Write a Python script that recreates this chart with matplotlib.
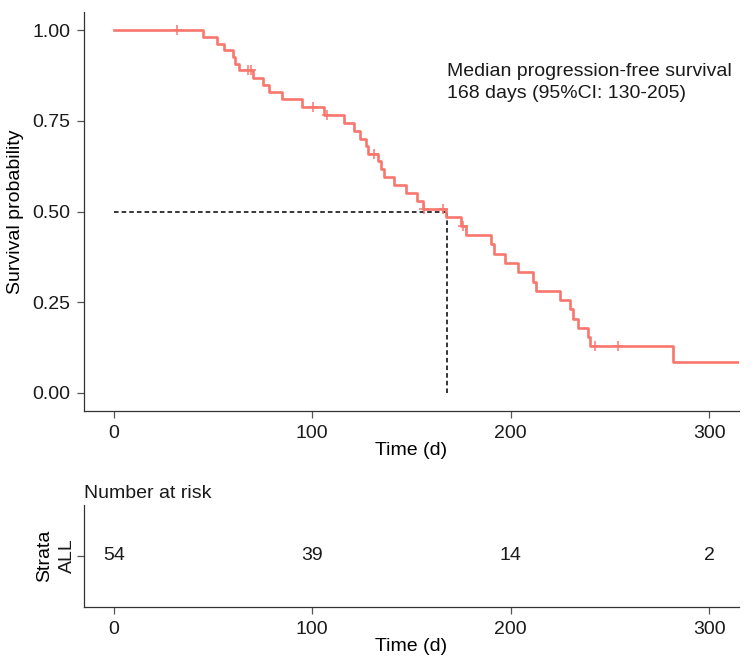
import matplotlib
matplotlib.use("Agg")
import matplotlib.pyplot as plt

plt.rcParams["font.family"] = ["Liberation Sans", "DejaVu Sans"]
plt.rcParams["font.size"] = 14

# Kaplan-Meier steps
step_days = [0, 45, 52, 55.5, 60, 61, 63, 70, 75, 78, 85, 95, 106, 116, 121, 124,
             127, 128, 133, 134.5, 136, 141, 147, 153, 156, 167.5, 175, 177.5,
             190, 191.5, 197, 203.5, 211, 212.5, 225, 230, 231.5, 234, 239, 240,
             282, 316]
step_surv = [1.0, 0.982, 0.963, 0.944, 0.926, 0.907, 0.889, 0.869, 0.849, 0.830,
             0.810, 0.788, 0.766, 0.744, 0.722, 0.701, 0.680, 0.659, 0.638, 0.616,
             0.594, 0.572, 0.551, 0.529, 0.507, 0.484, 0.461, 0.436, 0.410, 0.384,
             0.358, 0.333, 0.307, 0.282, 0.256, 0.231, 0.205, 0.180, 0.154, 0.129,
             0.086, 0.086]

censor_days = [32, 67.5, 69, 100.5, 107.5, 131, 156.5, 166, 176, 242.5, 254]
censor_surv = [1.0, 0.889, 0.889, 0.788, 0.766, 0.659, 0.507, 0.507, 0.461, 0.129, 0.129]

median_day = 168
median_surv = 0.5

risk_times = [0, 100, 200, 300]
risk_counts = [54, 39, 14, 2]

curve_col = "#F8766D"
spine_col = "#333333"
text_col = "#1a1a1a"

fig = plt.figure(figsize=(7.56, 6.66), dpi=100)
ax = fig.add_axes([0.1111, 0.3829, 0.8664, 0.599])
ax_r = fig.add_axes([0.1111, 0.089, 0.8664, 0.1527])

ax.step(step_days, step_surv, where="post", color=curve_col, lw=1.9, zorder=3)
ax.plot(censor_days, censor_surv, "+", color=curve_col, ms=7, mew=1.1, zorder=3)

ax.plot([0, median_day], [median_surv, median_surv], color="black",
        lw=1.1, ls=(0, (3, 2)), zorder=2)
ax.plot([median_day, median_day], [0, median_surv], color="black",
        lw=1.1, ls=(0, (3, 2)), zorder=2)

ax.text(168, 0.855, "Median progression-free survival\n168 days (95%CI: 130-205)",
        ha="left", va="center", linespacing=1.4, color=text_col)

ax.set_xlim(-15, 315)
ax.set_ylim(-0.05, 1.05)
ax.set_xticks(risk_times)
ax.set_yticks([0, 0.25, 0.5, 0.75, 1.0])
ax.set_yticklabels(["0.00", "0.25", "0.50", "0.75", "1.00"])
ax.set_xlabel("Time (d)", labelpad=0)
ax.set_ylabel("Survival probability", labelpad=6)

for a in (ax, ax_r):
    for s in ("top", "right"):
        a.spines[s].set_visible(False)
    for s in ("left", "bottom"):
        a.spines[s].set_color(spine_col)
        a.spines[s].set_linewidth(0.9)
    a.tick_params(colors="#555555", labelcolor=text_col, length=5, width=0.9,
                  labelsize=14, pad=5)

# risk table
for t, n in zip(risk_times, risk_counts):
    ax_r.text(t, 1, str(n), ha="center", va="center", fontsize=14, color=text_col)
ax_r.set_xlim(-15, 315)
ax_r.set_ylim(0, 2)
ax_r.set_xticks(risk_times)
ax_r.set_yticks([1])
ax_r.set_yticklabels(["ALL"], rotation=90, va="center")
ax_r.tick_params(axis="y", pad=1)
ax_r.set_ylabel("Strata", labelpad=4)
ax_r.set_xlabel("Time (d)", labelpad=0)
ax_r.set_title("Number at risk", loc="left", fontsize=14, pad=5, color=text_col)

fig.savefig("out.png", dpi=100)
